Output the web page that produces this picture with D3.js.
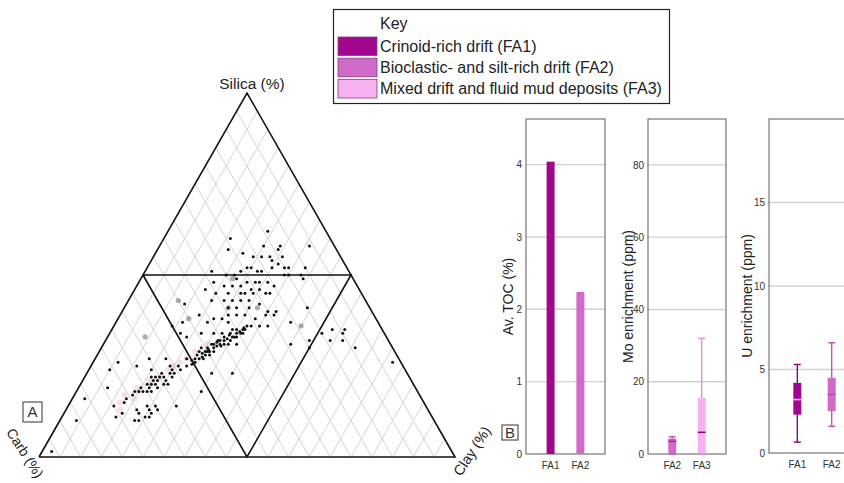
<!DOCTYPE html>
<html>
<head>
<meta charset="utf-8">
<script src="https://cdn.jsdelivr.net/npm/d3@7"></script>
<style>
  body { margin: 0; background: #fff; }
  svg { display: block; font-family: 'Liberation Sans', Arial, sans-serif; }
  .tick text { fill: #333; font-size: 10px; }
  .domain { display: none; }
</style>
</head>
<body>
<svg id="chart" width="844" height="483"></svg>
<script>
// ternary samples: [silica %, clay %] (carb = rest)
const blackPoints = [
  [62, 24], [60, 16], [57, 17], [56, 21], [58, 25], [58, 29], [58, 36], [57, 29], [55, 28], [55, 24],
  [55, 26], [54, 29], [55, 31], [53, 31], [52, 30], [52, 33], [52, 25], [52, 24], [51, 23], [51, 27],
  [51, 28], [52, 34], [52, 38], [50, 35], [51, 16], [50, 20], [50, 22], [50, 38], [50, 34],
  [49, 23], [48, 26], [48, 28], [48, 29], [48, 31], [48, 18], [47, 21], [47, 23], [47, 25], [46, 28],
  [46, 30], [47, 33], [49, 39], [46, 17], [45, 20], [45, 23], [45, 26], [45, 27], [45, 29], [45, 32],
  [45, 33], [42, 14], [43, 20], [43, 23], [43, 25], [43, 27], [43, 29], [42, 32], [41, 44], [41, 25],
  [41, 27], [41, 30], [40, 35], [40, 37], [39, 19], [38, 23], [39, 26], [39, 28], [39, 30], [38, 33],
  [39, 35], [39, 37], [37, 42], [36, 14], [37, 16], [37, 22], [38, 25], [37, 27], [36, 35], [36, 37],
  [34, 17], [33, 19], [34, 22], [34, 25], [34, 27], [35, 29], [34, 32], [33, 30], [35, 32], [31, 30],
  [31, 32], [32, 27], [31, 26], [30, 24], [29, 24], [29, 26], [27, 24], [28, 24], [27, 22], [23, 30],
  [23, 35], [31, 45], [32, 49], [34, 51], [35, 53], [34, 56], [35, 56], [32, 57], [32, 54], [30, 61],
  [26, 72], [30, 50],
  [26, 6], [24, 5], [25, 11], [27, 13], [24, 15], [27, 17], [25, 19], [23, 21], [25, 21], [22, 18],
  [22, 16], [20, 17], [18, 17], [19, 19], [18, 14], [18, 16], [19, 7], [14, 11], [13, 17], [14, 19],
  [12, 21], [13, 22], [11, 21], [11, 20], [10, 18], [10, 19], [14, 26], [18, 30], [16, 3], [10, 4],
  [21, 20], [20, 20], [22, 21], [20, 21], [18, 18], [1.5, 2.3],
  [25.5, 24], [26, 24.5], [26.5, 23.5], [27, 25], [27.5, 25.5], [28, 26], [28.5, 25], [29, 26.5],
  [29, 25.5], [29.5, 26], [30, 27], [30, 25.5], [30.5, 27.5], [31, 26.5], [31, 28], [31.5, 27],
  [32, 28.5], [32, 27.5], [32.5, 29], [33, 28], [33, 30.5], [33.5, 29], [34, 30.5], [34, 29],
  [34.5, 31], [35, 30], [35, 31.5], [35.5, 31.5], [36, 32], [36, 33], [33, 31], [32, 30],
  [34, 31.5], [31, 29], [30.5, 28.5], [29, 27.5], [28, 27], [27, 26],
  [20, 16], [19, 15], [21, 17], [22, 19], [23, 20], [24, 20], [24, 22], [25, 23], [21, 18], [19, 17],
  [18, 15], [17, 14], [23, 18], [22, 17], [20, 18], [16, 13], [15, 13], [12, 14], [11, 13], [12, 18],
  [13, 20], [14, 21]
];
const greyPoints = [[43, 12], [38, 17], [33, 9], [36, 45], [41, 25], [49, 22], [41, 32]];
const pinkPoints = [
  [16, 15], [22, 18], [25, 20], [27, 22], [18, 15], [17, 12], [20, 17], [29, 23], [13, 13], [31, 25],
  [24, 19], [19, 14], [26, 21], [15, 12], [21, 16]
];

// key
const groups = ['FA1', 'FA2', 'FA3'];
const groupNames = ['Crinoid-rich drift (FA1)', 'Bioclastic- and silt-rich drift (FA2)', 'Mixed drift and fluid mud deposits (FA3)'];
const groupFill = ['#a0078e', '#cf6ac7', '#f6b1f0'];

// panel B
const tocCats = ['FA1', 'FA2'];
const tocValues = [4.04, 2.24];
const tocTicks = [0, 1, 2, 3, 4];

const moCats = ['FA2', 'FA3'];
// [whiskerLow, q1, median, q3, whiskerHigh]
const moStats = [[0, 0.3, 3.5, 4.3, 4.8], [0, 0.3, 6, 15.5, 32]];
const moTicks = [0, 20, 40, 60, 80];

const uCats = ['FA1', 'FA2'];
const uStats = [[0.65, 2.3, 3.2, 4.2, 5.3], [1.6, 2.5, 3.5, 4.5, 6.6]];
const uTicks = [0, 5, 10, 15];

const svg = d3.select('#chart');
const fillOf = d3.scaleOrdinal().domain(groups).range(groupFill);

function drawTernary() {
  const g = svg.append('g');
  const x = d3.scaleLinear().domain([0, 100]).range([39, 455]);
  const y = d3.scaleLinear().domain([0, 100]).range([457, 93]);
  const pos = (s, k) => [x(k + s / 2), y(s)];

  // grid, lines of constant clay and constant carb
  const step = d3.range(5, 100, 5);
  const gridLines = [];
  step.forEach(v => {
    gridLines.push([pos(0, v), pos(100 - v, v)]);
    gridLines.push([pos(0, 100 - v), pos(100 - v, 0)]);
  });
  g.append('g').selectAll('line').data(gridLines).join('line')
    .attr('x1', d => d[0][0]).attr('y1', d => d[0][1])
    .attr('x2', d => d[1][0]).attr('y2', d => d[1][1])
    .attr('stroke', '#d4d4d4').attr('stroke-width', 1);

  const outline = [pos(0, 0), pos(100, 0), pos(0, 100), pos(0, 0)];
  const inner = [pos(50, 0), pos(50, 50), pos(0, 50), pos(50, 0)];
  [outline, inner].forEach(pts => {
    g.append('path').attr('d', d3.line()(pts))
      .attr('fill', 'none').attr('stroke', '#111').attr('stroke-width', 1.6);
  });

  g.append('g').selectAll('circle').data(pinkPoints).join('circle')
    .attr('cx', d => pos(d[0], d[1])[0]).attr('cy', d => pos(d[0], d[1])[1])
    .attr('r', 3).attr('fill', '#e8a0b8').attr('opacity', 0.35);

  g.append('g').selectAll('circle').data(greyPoints).join('circle')
    .attr('cx', d => pos(d[0], d[1])[0]).attr('cy', d => pos(d[0], d[1])[1])
    .attr('r', 2.6).attr('fill', '#777').attr('opacity', 0.6);

  g.append('g').selectAll('circle').data(blackPoints).join('circle')
    .attr('cx', d => pos(d[0], d[1])[0]).attr('cy', d => pos(d[0], d[1])[1])
    .attr('r', 1.5).attr('fill', '#111');

  g.append('text').attr('x', 252).attr('y', 89).attr('text-anchor', 'middle')
    .attr('font-size', 15.5).attr('fill', '#222').text('Silica (%)');
  g.append('text').attr('transform', 'translate(25,453) rotate(57)')
    .attr('text-anchor', 'middle').attr('dy', '0.35em')
    .attr('font-size', 14).attr('fill', '#222').text('Carb (%)');
  g.append('text').attr('transform', 'translate(472,451) rotate(-57)')
    .attr('text-anchor', 'middle').attr('dy', '0.35em')
    .attr('font-size', 14.5).attr('fill', '#222').text('Clay (%)');

  letterBox(g, 23, 402, 19, 20, 'A');
}

function letterBox(g, bx, by, w, h, t) {
  g.append('rect').attr('x', bx).attr('y', by).attr('width', w).attr('height', h)
    .attr('fill', '#fff').attr('stroke', '#333').attr('stroke-width', 1);
  g.append('text').attr('x', bx + w / 2).attr('y', by + h / 2).attr('dy', '0.36em')
    .attr('text-anchor', 'middle').attr('font-size', 15).attr('fill', '#333').text(t);
}

function drawKey() {
  const g = svg.append('g');
  g.append('rect').attr('x', 333.5).attr('y', 9.5).attr('width', 336).attr('height', 94)
    .attr('fill', '#fff').attr('stroke', '#222').attr('stroke-width', 1.2);
  g.append('text').attr('x', 380).attr('y', 29).attr('font-size', 16).attr('fill', '#222').text('Key');
  const row = d3.scaleBand().domain(groups).range([37, 98]).paddingInner(0.12);
  groups.forEach((k, i) => {
    g.append('rect').attr('x', 338).attr('y', row(k)).attr('width', 39).attr('height', row.bandwidth())
      .attr('fill', fillOf(k)).attr('stroke', '#8a3a86').attr('stroke-width', 0.8);
    g.append('text').attr('x', 380).attr('y', row(k) + row.bandwidth() / 2).attr('dy', '0.36em')
      .attr('font-size', 16).attr('fill', '#222').text(groupNames[i]);
  });
}

function panel(left, right, top, bottom, ymax, ticks, cats, label, labelX) {
  const g = svg.append('g');
  const y = d3.scaleLinear().domain([0, ymax]).range([bottom, top]);
  const x = d3.scaleBand().domain(cats).range([left, right]).paddingInner(0.25).paddingOuter(0.45);

  g.append('g').selectAll('line').data(ticks.filter(t => t > 0)).join('line')
    .attr('x1', left).attr('x2', right).attr('y1', d => y(d)).attr('y2', d => y(d))
    .attr('stroke', '#d2d2d2').attr('stroke-width', 1.4);

  g.append('rect').attr('x', left).attr('y', top).attr('width', right - left).attr('height', bottom - top)
    .attr('fill', 'none').attr('stroke', '#777').attr('stroke-width', 1.2);

  g.append('g').attr('transform', `translate(${left - 2},0)`)
    .call(d3.axisLeft(y).tickValues(ticks).tickFormat(d3.format('d')).tickSize(0).tickPadding(2));

  g.append('g').attr('transform', `translate(0,${bottom})`)
    .call(d3.axisBottom(x).tickSize(0).tickPadding(8))
    .selectAll('text').attr('font-size', 12.5).attr('fill', '#222');

  g.append('text').attr('transform', `translate(${labelX},${(top + bottom) / 2 + 10}) rotate(-90)`)
    .attr('text-anchor', 'middle').attr('font-size', 14).attr('fill', '#222').text(label);

  return { g, x, y };
}

function drawBars() {
  const { g, x, y } = panel(526, 605, 119, 454, 4.63, tocTicks, tocCats, 'Av. TOC (%)', 513);
  g.selectAll('.bar').data(tocCats).join('rect').attr('class', 'bar')
    .attr('x', d => x(d) + x.bandwidth() / 2 - 4).attr('width', 8)
    .attr('y', (d, i) => y(tocValues[i])).attr('height', (d, i) => y(0) - y(tocValues[i]))
    .attr('fill', d => fillOf(d));
  letterBox(g, 502, 425, 16, 15, 'B');
}

function drawBoxes(p, cats, stats, medColor) {
  const { g, x, y } = p;
  cats.forEach((c, i) => {
    const [lo, q1, med, q3, hi] = stats[i];
    const cx = x(c) + x.bandwidth() / 2;
    const col = fillOf(c);
    const dark = c === 'FA1' ? '#8a0079' : (c === 'FA2' ? '#c052b8' : '#e58ede');
    g.append('line').attr('x1', cx).attr('x2', cx).attr('y1', y(lo)).attr('y2', y(hi))
      .attr('stroke', dark).attr('stroke-width', 1.4);
    [lo, hi].forEach(v => {
      g.append('line').attr('x1', cx - 3.5).attr('x2', cx + 3.5).attr('y1', y(v)).attr('y2', y(v))
        .attr('stroke', dark).attr('stroke-width', 1.4);
    });
    g.append('rect').attr('x', cx - 4).attr('width', 8).attr('y', y(q3)).attr('height', y(q1) - y(q3))
      .attr('fill', col);
    g.append('line').attr('x1', cx - 4).attr('x2', cx + 4).attr('y1', y(med)).attr('y2', y(med))
      .attr('stroke', medColor[i]).attr('stroke-width', 1.5);
  });
}

drawTernary();
drawKey();
drawBars();
drawBoxes(panel(648, 726, 119, 454, 92.7, moTicks, moCats, 'Mo enrichment (ppm)', 633), moCats, moStats, ['#9a2a92', '#8a0a7c']);
drawBoxes(panel(769, 860, 119, 453, 20, uTicks, uCats, 'U enrichment (ppm)', 752), uCats, uStats, ['#f4d8f0', '#b84aae']);
</script>
</body>
</html>
